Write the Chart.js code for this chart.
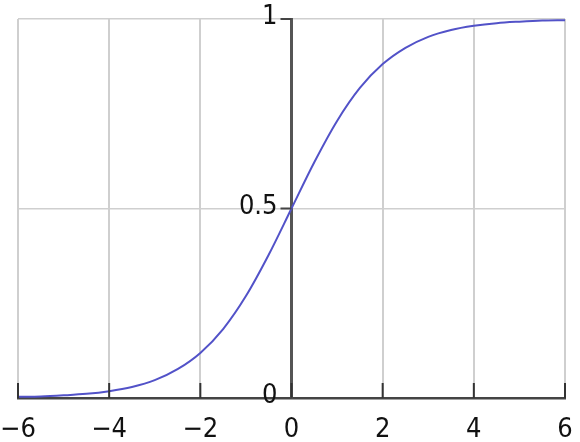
<!DOCTYPE html>
<html>
<head>
<meta charset="utf-8">
<script src="https://cdn.jsdelivr.net/npm/chart.js@4/dist/chart.umd.min.js"></script>
<style>
  html, body { margin: 0; padding: 0; background: #fff; }
  #wrap { width: 580px; height: 442px; }
</style>
</head>
<body>
<div id="wrap"><canvas id="sigmoid-chart"></canvas></div>
<script>
// values
var xValues = [-6, -5.5, -5, -4.5, -4, -3.5, -3, -2.5, -2, -1.5, -1, -0.5, 0,
               0.5, 1, 1.5, 2, 2.5, 3, 3.5, 4, 4.5, 5, 5.5, 6];
var yValues = [0.003, 0.004, 0.007, 0.011, 0.018, 0.029, 0.047, 0.076, 0.119, 0.182, 0.269, 0.378, 0.5,
               0.622, 0.731, 0.818, 0.881, 0.924, 0.953, 0.971, 0.982, 0.989, 0.993, 0.996, 0.997];

var xTickValues = [-6, -4, -2, 0, 2, 4, 6];
var xTickLabels = ["\u22126", "\u22124", "\u22122", "0", "2", "4", "6"];
var yTickValues = [0, 0.5, 1];
var yTickLabels = ["0", "0.5", "1"];

var fontFamily = "'Liberation Sans Narrow', 'DejaVu Sans Condensed', 'Liberation Sans', sans-serif";
var labelFont = { family: fontFamily, size: 27, lineHeight: 1 };

// short ticks pointing up from the bottom axis, ticks + labels
// left of the centre axis (chart.js ignores ticks.padding there)
var axisExtras = {
  id: 'axisExtras',
  afterDatasetsDraw: function(chart) {
    var ctx = chart.ctx;
    var xs = chart.scales.x;
    var ys = chart.scales.y;
    var bottom = chart.chartArea.bottom;
    ctx.save();
    ctx.strokeStyle = '#333';
    ctx.lineWidth = 2;
    xTickValues.forEach(function(v) {
      var px = xs.getPixelForValue(v);
      ctx.beginPath();
      ctx.moveTo(px, bottom);
      ctx.lineTo(px, bottom - 15);
      ctx.stroke();
    });

    var x0 = xs.getPixelForValue(0);
    ctx.strokeStyle = '#444';
    yTickValues.forEach(function(v) {
      var py = ys.getPixelForValue(v);
      ctx.beginPath();
      ctx.moveTo(x0, py);
      ctx.lineTo(x0 - 11, py);
      ctx.stroke();
    });

    ctx.fillStyle = '#111';
    ctx.font = '27px ' + fontFamily;
    ctx.textAlign = 'right';
    ctx.textBaseline = 'middle';
    yTickValues.forEach(function(v, i) {
      ctx.fillText(yTickLabels[i], x0 - 14, ys.getPixelForValue(v) - 2);
    });
    ctx.restore();
  }
};

var points = [];
for (let i = 0; i < xValues.length; i++) {
  points.push({ x: xValues[i], y: yValues[i] });
}

new Chart(document.getElementById("sigmoid-chart"), {
  type: 'scatter',
  data: {
    datasets: [{
      data: points,
      showLine: true,
      borderColor: '#5252c8',
      borderWidth: 2,
      pointRadius: 0,
      tension: 0.4,
      cubicInterpolationMode: 'monotone',
    }]
  },
  plugins: [axisExtras],
  options: {
    responsive: true,
    maintainAspectRatio: false,
    animation: false,
    layout: {
      padding: { left: 18, right: 15, top: 19, bottom: 2 }
    },
    plugins: {
      legend: { display: false },
      tooltip: { enabled: false }
    },
    scales: {
      x: {
        type: 'linear',
        position: 'bottom',
        min: -6,
        max: 6,
        afterBuildTicks: function(scale) {
          scale.ticks = xTickValues.map(function(v) { return { value: v }; });
        },
        afterFit: function(scale) {
          scale.paddingLeft = 0;
          scale.paddingRight = 0;
          scale.height = 42;
        },
        grid: {
          color: '#cfcfcf',
          lineWidth: 2,
          drawTicks: false,
        },
        border: { color: '#444', width: 2.5 },
        ticks: {
          color: '#111',
          font: labelFont,
          padding: 18,
          maxRotation: 0,
          callback: function(value, index) { return xTickLabels[index]; }
        }
      },
      y: {
        type: 'linear',
        position: { x: 0 },
        min: 0,
        max: 1,
        afterBuildTicks: function(scale) {
          scale.ticks = yTickValues.map(function(v) { return { value: v }; });
        },
        afterFit: function(scale) {
          scale.paddingTop = 0;
          scale.paddingBottom = 0;
        },
        grid: {
          color: '#cfcfcf',
          lineWidth: 1.5,
          drawTicks: false,
        },
        border: { color: '#555', width: 3 },
        ticks: {
          display: false
        }
      }
    }
  }
});
</script>
</body>
</html>
